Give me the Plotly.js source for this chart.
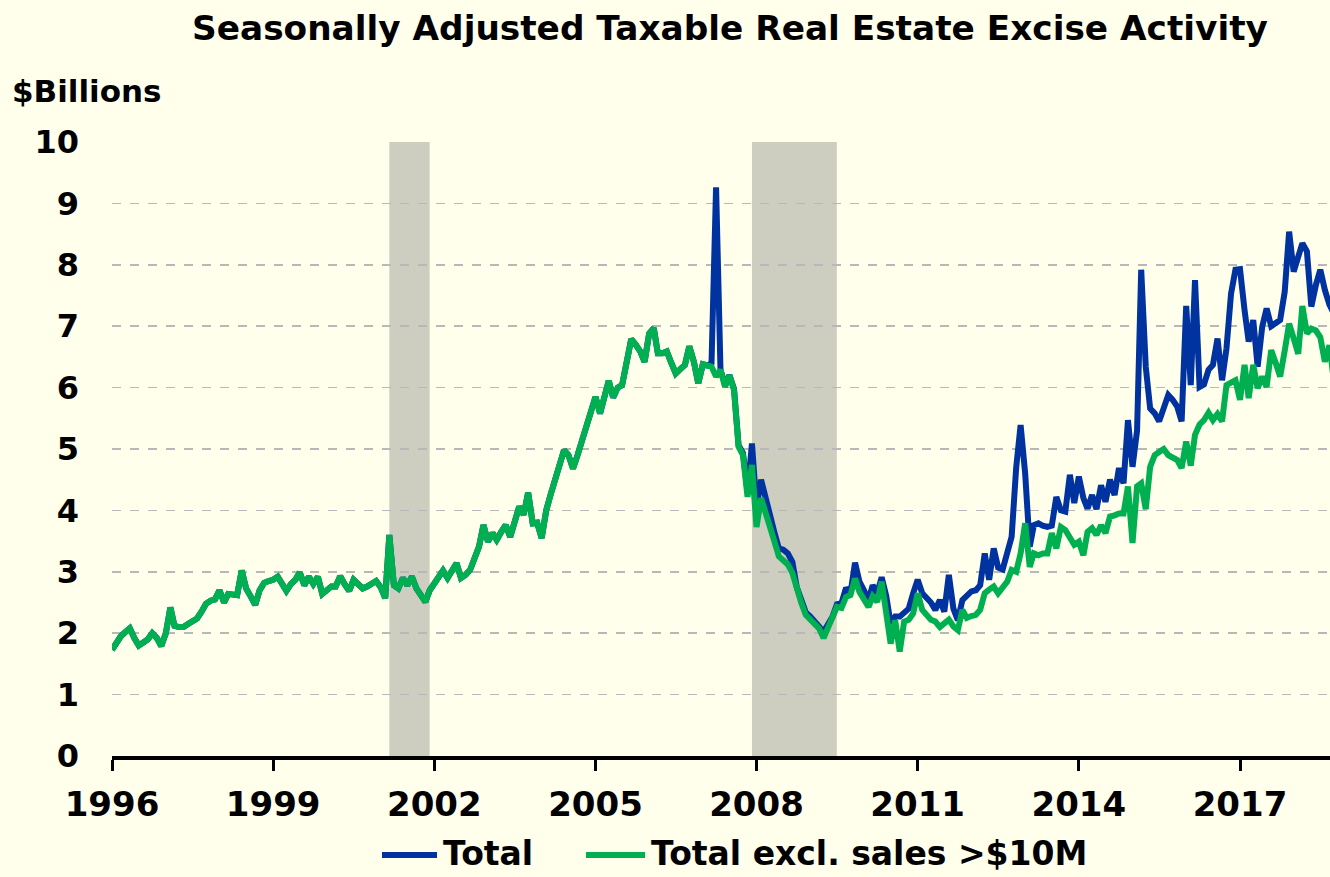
<!DOCTYPE html>
<html>
<head>
<meta charset="utf-8">
<script src="https://cdn.plot.ly/plotly-3.0.1.min.js"></script>
<style>
  html, body { margin: 0; padding: 0; background: #FFFFEC; }
  #chart { width: 1330px; height: 877px; }
</style>
</head>
<body>
<div id="chart"></div>
<script>
// ---- data (monthly, Jan 1996 – Oct 2018), $ billions ----
const firstYear = 1996;

const totalExclValues = [
  1.73,1.85,1.95,2.02,2.08,1.92,1.80,1.85,1.90,2.00,1.92,1.79, // 1996
  2.00,2.42,2.12,2.10,2.10,2.15,2.20,2.24,2.35,2.48,2.53,2.55, // 1997
  2.70,2.50,2.64,2.64,2.62,3.02,2.73,2.60,2.46,2.70,2.82,2.85, // 1998
  2.87,2.92,2.80,2.69,2.80,2.87,2.99,2.78,2.92,2.80,2.92,2.64, // 1999
  2.70,2.76,2.76,2.93,2.80,2.69,2.87,2.80,2.73,2.76,2.81,2.85, // 2000
  2.75,2.57,3.60,2.78,2.73,2.90,2.78,2.92,2.73,2.62,2.51,2.70, // 2001
  2.80,2.92,3.02,2.90,3.00,3.14,2.90,2.95,3.03,3.20,3.41,3.76, // 2002
  3.49,3.63,3.52,3.65,3.76,3.57,3.80,4.06,3.93,4.29,3.79,3.80, // 2003
  3.55,4.00,4.25,4.50,4.75,4.98,4.90,4.68,4.90,5.15,5.36,5.60, // 2004
  5.85,5.58,5.85,6.11,5.84,6.00,6.04,6.40,6.79,6.70,6.59,6.42, // 2005
  6.88,6.97,6.56,6.56,6.59,6.40,6.23,6.30,6.37,6.67,6.42,6.07, // 2006
  6.38,6.36,6.34,6.18,6.29,6.01,6.20,5.96,5.04,4.90,4.22,4.74, // 2007
  3.73,4.20,3.95,3.76,3.50,3.25,3.19,3.12,2.98,2.70,2.49,2.30, // 2008
  2.22,2.15,2.08,1.92,2.10,2.27,2.43,2.41,2.59,2.62,2.89,2.67, // 2009
  2.55,2.43,2.60,2.51,2.84,2.32,1.83,2.21,1.70,2.19,2.22,2.32, // 2010
  2.65,2.38,2.30,2.22,2.19,2.10,2.16,2.22,2.11,2.05,2.38,2.25, // 2011
  2.28,2.30,2.38,2.65,2.71,2.76,2.65,2.76,2.84,3.03,3.00,3.30, // 2012
  3.79,3.08,3.30,3.27,3.30,3.30,3.63,3.38,3.73,3.68,3.55,3.44, // 2013
  3.49,3.27,3.65,3.71,3.60,3.76,3.63,3.90,3.92,3.95,3.95,4.39, // 2014
  3.47,4.39,4.44,4.02,4.71,4.90,4.95,5.00,4.90,4.85,4.82,4.69, // 2015
  5.12,4.73,5.23,5.40,5.47,5.59,5.47,5.57,5.45,6.04,6.08,6.12, // 2016
  5.80,6.37,5.83,6.37,5.99,6.18,6.01,6.61,6.40,6.18,6.60,7.04, // 2017
  6.80,6.55,7.33,6.88,6.96,6.93,6.82,6.42,6.69,6.12            // 2018
];

const totalValues = [
  1.73,1.85,1.95,2.02,2.08,1.92,1.80,1.85,1.90,2.00,1.92,1.79, // 1996
  2.00,2.42,2.12,2.10,2.10,2.15,2.20,2.24,2.35,2.48,2.53,2.55, // 1997
  2.70,2.50,2.64,2.64,2.62,3.02,2.73,2.60,2.46,2.70,2.82,2.85, // 1998
  2.87,2.92,2.80,2.69,2.80,2.87,2.99,2.78,2.92,2.80,2.92,2.64, // 1999
  2.70,2.76,2.76,2.93,2.80,2.69,2.87,2.80,2.73,2.76,2.81,2.85, // 2000
  2.75,2.57,3.60,2.78,2.73,2.90,2.78,2.92,2.73,2.62,2.51,2.70, // 2001
  2.80,2.92,3.02,2.90,3.00,3.14,2.90,2.95,3.03,3.20,3.41,3.76, // 2002
  3.49,3.63,3.52,3.65,3.76,3.57,3.80,4.06,3.93,4.29,3.79,3.80, // 2003
  3.55,4.00,4.25,4.50,4.75,4.98,4.90,4.68,4.90,5.15,5.36,5.60, // 2004
  5.85,5.58,5.85,6.11,5.84,6.00,6.04,6.40,6.79,6.70,6.59,6.42, // 2005
  6.88,6.97,6.56,6.56,6.59,6.40,6.23,6.30,6.37,6.67,6.42,6.07, // 2006
  6.38,6.36,6.40,9.26,6.29,6.05,6.20,5.98,5.06,4.93,4.30,5.09, // 2007
  4.05,4.50,4.20,3.96,3.65,3.38,3.36,3.30,3.16,2.75,2.54,2.34, // 2008
  2.27,2.20,2.11,2.02,2.15,2.27,2.47,2.49,2.74,2.65,3.15,2.84, // 2009
  2.70,2.54,2.78,2.65,2.91,2.61,2.16,2.27,2.27,2.33,2.40,2.65, // 2010
  2.87,2.65,2.58,2.50,2.38,2.54,2.35,2.95,2.40,2.21,2.54,2.62, // 2011
  2.68,2.70,2.78,3.30,2.87,3.38,3.07,3.04,3.36,3.57,4.70,5.39, // 2012
  4.60,3.41,3.76,3.79,3.75,3.73,3.75,4.22,4.00,3.98,4.58,4.12, // 2013
  4.55,4.20,4.03,4.25,4.02,4.41,4.14,4.50,4.25,4.69,4.44,5.47, // 2014
  4.71,5.30,7.92,6.34,5.66,5.58,5.45,5.70,5.88,5.80,5.69,5.45, // 2015
  7.33,6.04,7.75,6.01,6.05,6.29,6.37,6.80,6.12,6.64,7.53,7.92, // 2016
  7.93,7.26,6.75,7.10,6.34,6.99,7.29,7.00,7.05,7.10,7.56,8.54, // 2017
  7.89,8.10,8.35,8.22,7.32,7.67,7.92,7.59,7.35,7.21            // 2018
];

const seriesNames = ['Total', 'Total excl. sales >$10M'];
const seriesColors = ['#0033A0', '#00B050'];
const recessions = [['2001-03-01', '2001-11-30'], ['2007-12-01', '2009-06-30']];
const xTickYears = [1996, 1999, 2002, 2005, 2008, 2011, 2014, 2017];
const yTicks = [0, 1, 2, 3, 4, 5, 6, 7, 8, 9, 10];

// monthly date labels
const months = totalValues.map((_, i) => {
  const y = firstYear + Math.floor(i / 12);
  const m = (i % 12) + 1;
  return y + '-' + (m < 10 ? '0' + m : m) + '-01';
});

const FONT = 'DejaVu Sans, Verdana, sans-serif';

const traces = [
  {
    x: months, y: totalValues, name: seriesNames[0], type: 'scatter', mode: 'lines',
    line: { color: seriesColors[0], width: 6 }
  },
  {
    x: months, y: totalExclValues, name: seriesNames[1], type: 'scatter', mode: 'lines',
    line: { color: seriesColors[1], width: 6 }
  }
];

// plot-area geometry (pixels) used to place the hand-drawn legend
const PL = 112, PW = 1218, PB = 756, PH = 614;
const px = v => (v - PL) / PW;
const py = v => (PB - v) / PH;

const shapes = recessions.map(r => ({
  type: 'rect', xref: 'x', yref: 'y', x0: r[0], x1: r[1], y0: 0, y1: 10,
  fillcolor: '#CDCDC0', line: { width: 0 }, layer: 'below'
}));

// legend keys
const LEG_Y = 853;
const legendKeys = [[382, 437], [586, 645]];
legendKeys.forEach((k, i) => shapes.push({
  type: 'line', xref: 'paper', yref: 'paper',
  x0: px(k[0]), x1: px(k[1]), y0: py(LEG_Y + 2), y1: py(LEG_Y + 2),
  line: { color: seriesColors[i], width: 6 }
}));
const legendTextX = [441, 649];

const annotations = [{
  text: '$Billions', xref: 'paper', yref: 'paper',
  x: px(10), xanchor: 'left',
  y: py(91), yanchor: 'middle',
  showarrow: false,
  font: { family: FONT, size: 31, color: '#000', weight: 'bold' }
}];
seriesNames.forEach((n, i) => annotations.push({
  text: n, xref: 'paper', yref: 'paper',
  x: px(legendTextX[i]), xanchor: 'left',
  y: py(LEG_Y), yanchor: 'middle',
  showarrow: false,
  font: { family: FONT, size: 33, color: '#000', weight: 'bold' }
}));

const layout = {
  width: 1330, height: 877,
  paper_bgcolor: '#FFFFEC', plot_bgcolor: '#FFFFEC',
  margin: { l: PL, r: 0, t: 142, b: 121 },
  font: { family: FONT, color: '#000', size: 30, weight: 'bold' },
  title: {
    text: 'Seasonally Adjusted Taxable Real Estate Excise Activity',
    font: { family: FONT, size: 34.3, color: '#000', weight: 'bold' },
    x: 730 / 1330, xanchor: 'center', xref: 'container',
    y: 1 - 28 / 877, yanchor: 'middle', yref: 'container'
  },
  xaxis: {
    type: 'date',
    range: ['1996-01-01', '2018-09-05'],
    tickmode: 'array',
    tickvals: xTickYears.map(y => y + '-01-01'),
    ticktext: xTickYears.map(String),
    ticks: 'outside', ticklen: 11, tickwidth: 3, tickcolor: '#000',
    showline: true, linecolor: '#000', linewidth: 4,
    showgrid: false, zeroline: false,
    tickfont: { family: FONT, size: 34, color: '#000', weight: 'bold' },
    ticklabelstandoff: 4
  },
  yaxis: {
    range: [0, 10],
    tickmode: 'array', tickvals: yTicks, ticktext: yTicks.map(String),
    showgrid: true, gridcolor: '#B8B8B8', griddash: 'dash', gridwidth: 1.5,
    zeroline: false, showline: false, ticks: '',
    tickfont: { family: FONT, size: 32, color: '#000', weight: 'bold' },
    ticklabelstandoff: 32
  },
  shapes: shapes,
  annotations: annotations,
  showlegend: false,
  hovermode: false
};

Plotly.newPlot('chart', traces, layout, { staticPlot: true, displayModeBar: false });
</script>
</body>
</html>
